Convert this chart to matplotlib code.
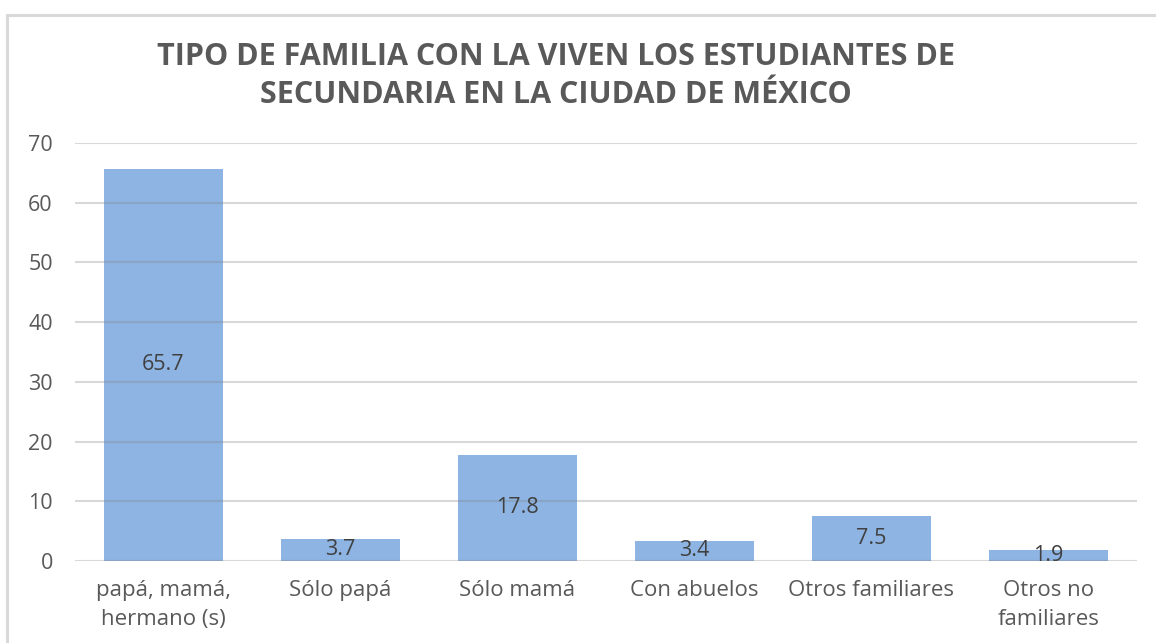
import matplotlib
matplotlib.use("Agg")
import matplotlib.pyplot as plt
from matplotlib.patches import Rectangle

categories = ["papá, mamá,\nhermano (s)", "Sólo papá", "Sólo mamá", "Con abuelos",
              "Otros familiares", "Otros no\nfamiliares"]
values = [65.7, 3.7, 17.8, 3.4, 7.5, 1.9]
value_labels = ["65.7", "3.7", "17.8", "3.4", "7.5", "1.9"]
yticks = [0, 10, 20, 30, 40, 50, 60, 70]
title = "TIPO DE FAMILIA CON LA VIVEN LOS ESTUDIANTES DE\nSECUNDARIA EN LA CIUDAD DE MÉXICO"

plt.rcParams['font.family'] = ['Open Sans', 'DejaVu Sans']

W, H = 1156, 643
fig = plt.figure(figsize=(W/100, H/100), dpi=100)
fig.patch.set_facecolor("white")

# outer chart border
fig.patches.append(Rectangle((7/W, -0.05), 1.2, 1 - 15/H + 0.05, transform=fig.transFigure,
                             fill=False, edgecolor="#d9d9d9", linewidth=2.2))

ax = fig.add_axes([75/W, 1 - 561/H, (1137-75)/W, (561-143)/H])
x = list(range(len(categories)))
ax.bar(x, values, width=0.667, color="#8db4e2", zorder=2)
for xi, v, lab in zip(x, values, value_labels):
    ax.text(xi, v/2, lab, ha="center", va="center", fontsize=15.5, color="#404040", zorder=4)

ax.set_xlim(-0.5, len(categories) - 0.5)
ax.set_ylim(0, 70)
ax.set_yticks(yticks)
ax.set_yticklabels([str(t) for t in yticks], fontsize=15.5, color="#595959")
ax.set_xticks(x)
ax.set_xticklabels(categories, fontsize=16, color="#595959", linespacing=1.45, va="top")
ax.tick_params(axis="both", length=0)
ax.tick_params(axis="y", pad=16)
ax.tick_params(axis="x", pad=14)
ax.grid(axis="y", color="#808080", alpha=0.3, linewidth=1.5, zorder=3)
ax.set_axisbelow(False)
for s in ax.spines.values():
    s.set_visible(False)

fig.text(556/W, 1 - 76/H, title, ha="center", va="center", fontsize=22, fontweight="bold",
         color="#595959", linespacing=1.33)

fig.savefig("out.png", dpi=100)
